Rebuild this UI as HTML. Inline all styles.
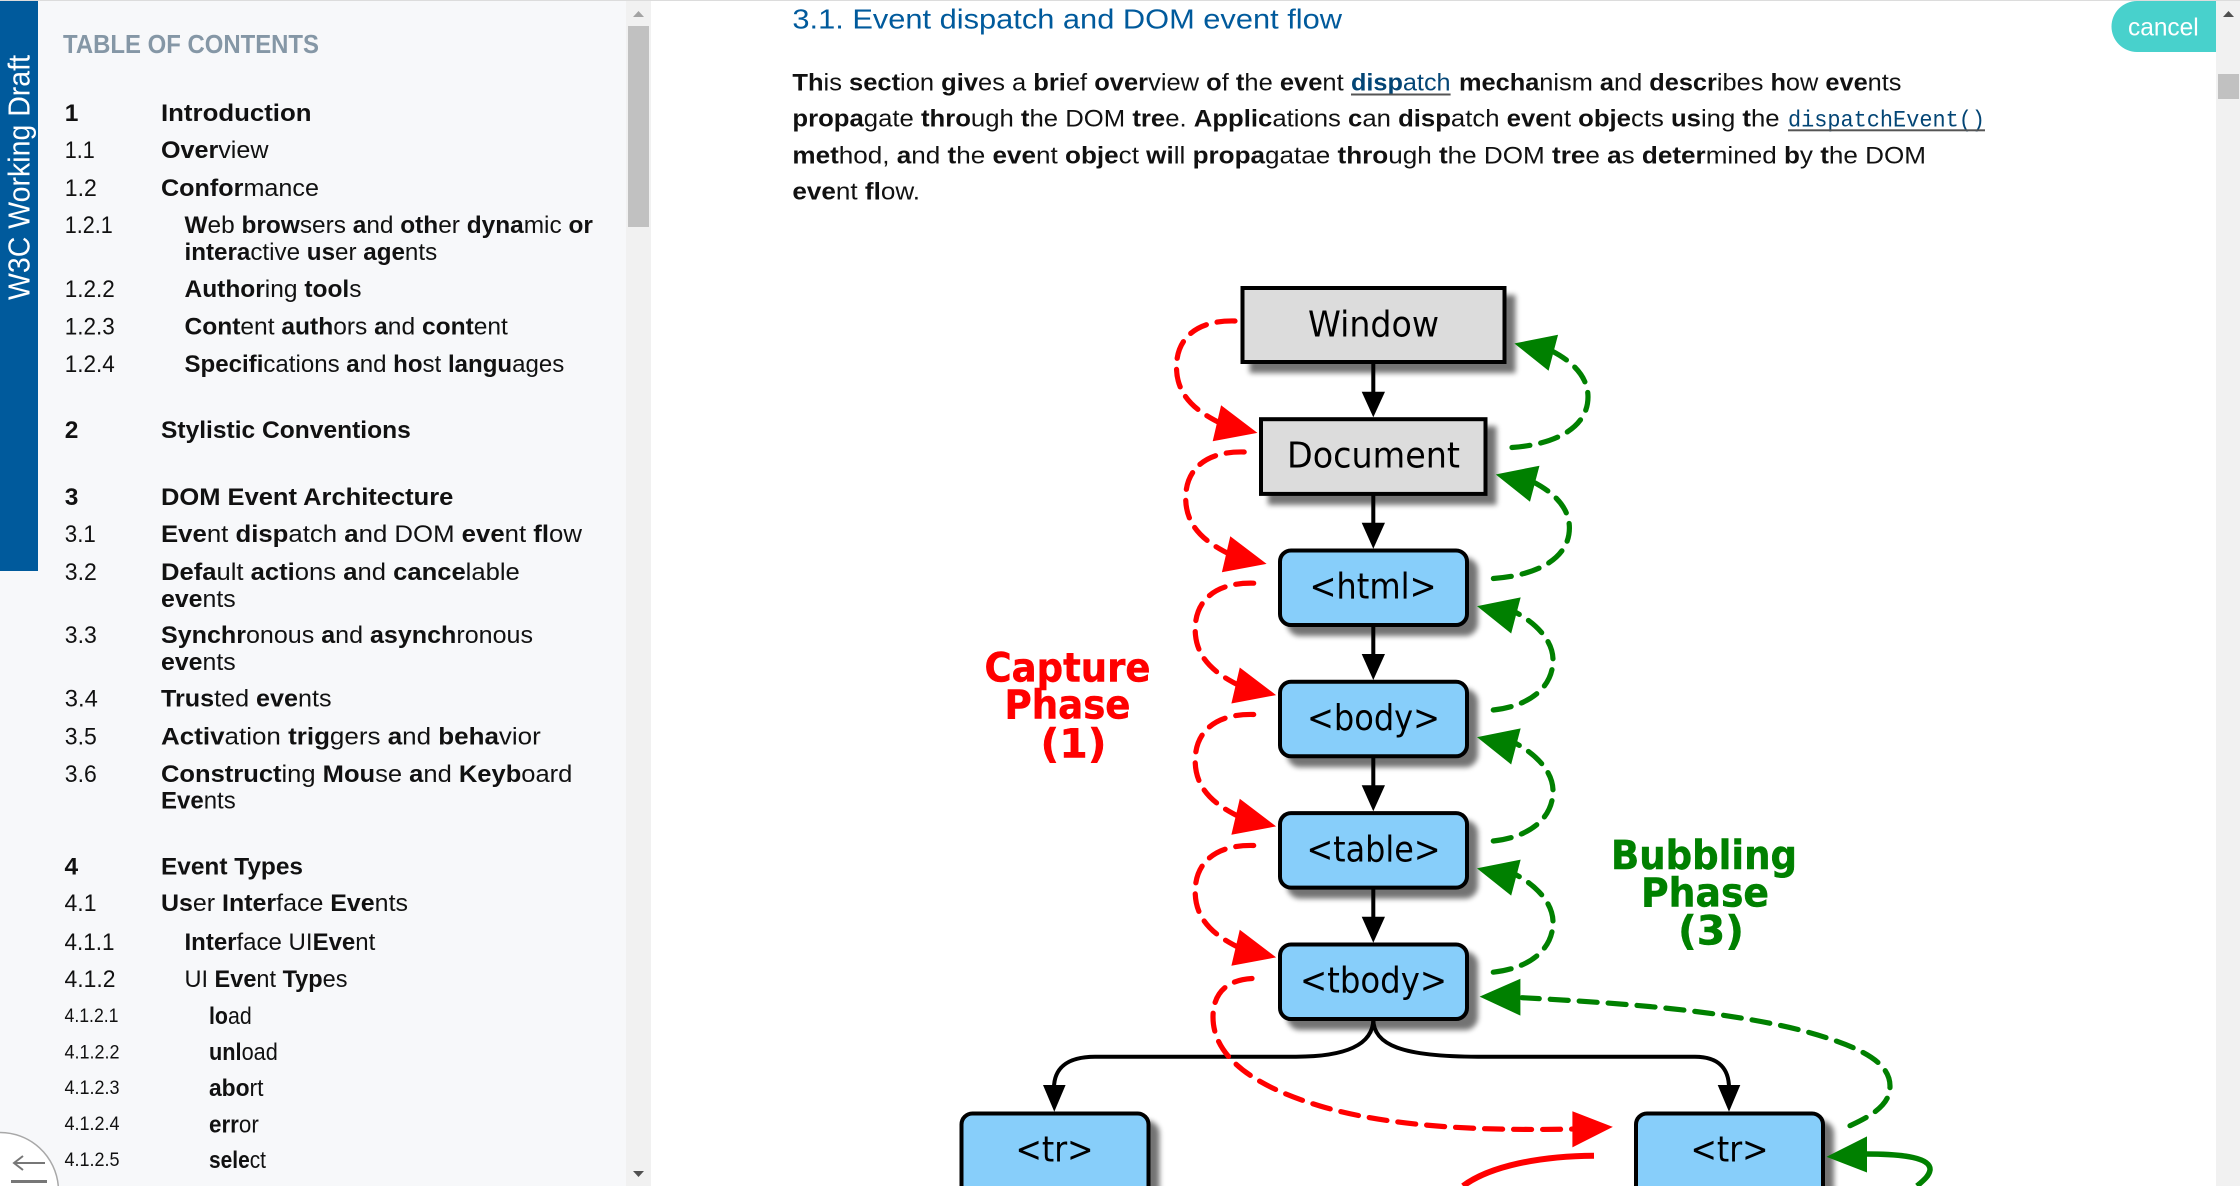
<!DOCTYPE html>
<html><head><meta charset="utf-8"><style>
html,body{margin:0;padding:0;width:2240px;height:1186px;overflow:hidden;background:#fff}
svg{display:block}
.t text{font-family:"Liberation Sans",sans-serif;font-size:24.5px;fill:#111}
.t b,.b{font-weight:bold}
.s{font-size:19.5px!important}
.d text{font-family:"DejaVu Sans",sans-serif;font-size:35.4px;fill:#000}
.l{font-family:"DejaVu Sans",sans-serif;font-size:40px;font-weight:bold;stroke-width:.5}
.n{fill:#87cefa;stroke:#000;stroke-width:4}
.g{fill:#dcdcdc;stroke:#000;stroke-width:4}
.rd{fill:none;stroke:#f00;stroke-width:5.2;stroke-dasharray:18 11;stroke-linecap:round}
.gd{fill:none;stroke:#008000;stroke-width:5.2;stroke-dasharray:18 11;stroke-linecap:round}
.hr{fill:#f00;stroke:#f00;stroke-width:2;stroke-linejoin:miter}
.hg{fill:#008000;stroke:#008000;stroke-width:2;stroke-linejoin:miter}
tspan.b{font-weight:bold}
</style></head><body>
<svg xmlns="http://www.w3.org/2000/svg" width="2240" height="1186" viewBox="0 0 2240 1186">
<defs>
<filter id="sh" x="-15%" y="-25%" width="130%" height="150%">
<feGaussianBlur in="SourceAlpha" stdDeviation="2.6" result="a"/>
<feOffset in="a" dx="9" dy="9" result="o"/>
<feComponentTransfer in="o" result="c"><feFuncA type="linear" slope="0.55"/></feComponentTransfer>
<feMerge><feMergeNode in="c"/><feMergeNode in="SourceGraphic"/></feMerge>
</filter>
<g id="r1"><path class="rd" d="M1235 321C1197 320 1176.500 338 1176.500 367C1176.500 395 1195 411 1222 424"/><polygon class="hr" points="1255,432.300 1221.700,407 1214,440"/></g>
<g id="g1"><path class="gd" d="M1512 447.500C1560 444 1588 425 1588 397C1588 375 1570 360 1550 350"/><polygon class="hg" points="1516.700,344 1556.700,336 1548,369"/></g>
<g id="g2"><path class="gd" d="M1493.300 710C1530 706 1553 687 1553 660C1553 640 1535 622 1513 611"/><polygon class="hg" points="1479.300,606.700 1519.300,598.700 1510.600,631.700"/></g>
</defs>

<!-- sidebar -->
<rect x="0" y="0" width="626" height="1186" fill="#f7f8fa"/>
<rect x="626" y="0" width="25" height="1186" fill="#f1f1f1"/>
<rect x="628" y="26" width="21" height="201" fill="#c1c1c1"/>
<polygon points="633,17 644,17 638.500,11" fill="#a3a3a3"/>
<polygon points="633,1171 644,1171 638.500,1177" fill="#505050"/>
<rect x="0" y="1" width="38" height="570" fill="#005a9c"/>
<text transform="translate(29.500 300) rotate(-90)" font-family="Liberation Sans,sans-serif" font-size="31" fill="#fff" textLength="245" lengthAdjust="spacingAndGlyphs">W3C Working Draft</text>
<text x="63" y="52.800" font-family="Liberation Sans,sans-serif" font-size="26" font-weight="bold" fill="#8597a6" textLength="256" lengthAdjust="spacingAndGlyphs">TABLE OF CONTENTS</text>

<g class="t">
<text x="64.800" y="121" class="b">1</text>
<text x="161" y="121" class="b" textLength="150.500" lengthAdjust="spacingAndGlyphs">Introduction</text>
<text x="64.800" y="158" textLength="30" lengthAdjust="spacingAndGlyphs">1.1</text>
<text x="161" y="158" textLength="107.500" lengthAdjust="spacingAndGlyphs"><tspan class="b">Over</tspan>view</text>
<text x="64.800" y="196" textLength="32" lengthAdjust="spacingAndGlyphs">1.2</text>
<text x="161" y="196" textLength="158" lengthAdjust="spacingAndGlyphs"><tspan class="b">Confor</tspan>mance</text>
<text x="64.800" y="233" textLength="48" lengthAdjust="spacingAndGlyphs">1.2.1</text>
<text x="184.500" y="233" textLength="408.400" lengthAdjust="spacingAndGlyphs"><tspan class="b">W</tspan>eb <tspan class="b">brow</tspan>sers <tspan class="b">a</tspan>nd <tspan class="b">oth</tspan>er <tspan class="b">dyna</tspan>mic <tspan class="b">or</tspan></text>
<text x="184.500" y="260" textLength="252.700" lengthAdjust="spacingAndGlyphs"><tspan class="b">intera</tspan>ctive <tspan class="b">us</tspan>er <tspan class="b">age</tspan>nts</text>
<text x="64.800" y="297" textLength="50" lengthAdjust="spacingAndGlyphs">1.2.2</text>
<text x="184.500" y="297" textLength="177" lengthAdjust="spacingAndGlyphs"><tspan class="b">Author</tspan>ing <tspan class="b">tool</tspan>s</text>
<text x="64.800" y="334.500" textLength="50" lengthAdjust="spacingAndGlyphs">1.2.3</text>
<text x="184.500" y="334.500" textLength="323.400" lengthAdjust="spacingAndGlyphs"><tspan class="b">Cont</tspan>ent <tspan class="b">auth</tspan>ors <tspan class="b">a</tspan>nd <tspan class="b">cont</tspan>ent</text>
<text x="64.800" y="372" textLength="50" lengthAdjust="spacingAndGlyphs">1.2.4</text>
<text x="184.500" y="372" textLength="379.800" lengthAdjust="spacingAndGlyphs"><tspan class="b">Specifi</tspan>cations <tspan class="b">a</tspan>nd <tspan class="b">ho</tspan>st <tspan class="b">langu</tspan>ages</text>
<text x="64.800" y="438" class="b">2</text>
<text x="161" y="438" class="b" textLength="249.800" lengthAdjust="spacingAndGlyphs">Stylistic Conventions</text>
<text x="64.800" y="505" class="b">3</text>
<text x="161" y="505" class="b" textLength="292.300" lengthAdjust="spacingAndGlyphs">DOM Event Architecture</text>
<text x="64.800" y="542" textLength="31" lengthAdjust="spacingAndGlyphs">3.1</text>
<text x="161" y="542" textLength="421" lengthAdjust="spacingAndGlyphs"><tspan class="b">Eve</tspan>nt <tspan class="b">disp</tspan>atch <tspan class="b">a</tspan>nd DOM <tspan class="b">eve</tspan>nt <tspan class="b">fl</tspan>ow</text>
<text x="64.800" y="580" textLength="32" lengthAdjust="spacingAndGlyphs">3.2</text>
<text x="161" y="580" textLength="358.800" lengthAdjust="spacingAndGlyphs"><tspan class="b">Defa</tspan>ult <tspan class="b">acti</tspan>ons <tspan class="b">a</tspan>nd <tspan class="b">cance</tspan>lable</text>
<text x="161" y="607" textLength="74.700" lengthAdjust="spacingAndGlyphs"><tspan class="b">eve</tspan>nts</text>
<text x="64.800" y="643" textLength="32" lengthAdjust="spacingAndGlyphs">3.3</text>
<text x="161" y="643" textLength="372" lengthAdjust="spacingAndGlyphs"><tspan class="b">Synchr</tspan>onous <tspan class="b">a</tspan>nd <tspan class="b">asynch</tspan>ronous</text>
<text x="161" y="670" textLength="74.700" lengthAdjust="spacingAndGlyphs"><tspan class="b">eve</tspan>nts</text>
<text x="64.800" y="706.500" textLength="33" lengthAdjust="spacingAndGlyphs">3.4</text>
<text x="161" y="706.500" textLength="170.600" lengthAdjust="spacingAndGlyphs"><tspan class="b">Trus</tspan>ted <tspan class="b">eve</tspan>nts</text>
<text x="64.800" y="744.600" textLength="32" lengthAdjust="spacingAndGlyphs">3.5</text>
<text x="161" y="744.600" textLength="379.800" lengthAdjust="spacingAndGlyphs"><tspan class="b">Activ</tspan>ation <tspan class="b">trig</tspan>gers <tspan class="b">a</tspan>nd <tspan class="b">beha</tspan>vior</text>
<text x="64.800" y="782" textLength="32" lengthAdjust="spacingAndGlyphs">3.6</text>
<text x="161" y="782" textLength="411.400" lengthAdjust="spacingAndGlyphs"><tspan class="b">Construct</tspan>ing <tspan class="b">Mou</tspan>se <tspan class="b">a</tspan>nd <tspan class="b">Keyb</tspan>oard</text>
<text x="161" y="808.500" textLength="74.700" lengthAdjust="spacingAndGlyphs"><tspan class="b">Eve</tspan>nts</text>
<text x="64.500" y="874.700" class="b">4</text>
<text x="161" y="874.700" class="b" textLength="142" lengthAdjust="spacingAndGlyphs">Event Types</text>
<text x="64.500" y="911" textLength="32" lengthAdjust="spacingAndGlyphs">4.1</text>
<text x="161" y="911" textLength="247" lengthAdjust="spacingAndGlyphs"><tspan class="b">Us</tspan>er <tspan class="b">Inter</tspan>face <tspan class="b">Eve</tspan>nts</text>
<text x="64.500" y="950" textLength="50" lengthAdjust="spacingAndGlyphs">4.1.1</text>
<text x="184.500" y="950" textLength="190.800" lengthAdjust="spacingAndGlyphs"><tspan class="b">Inter</tspan>face UI<tspan class="b">Eve</tspan>nt</text>
<text x="64.500" y="987" textLength="51" lengthAdjust="spacingAndGlyphs">4.1.2</text>
<text x="184.500" y="987" textLength="163" lengthAdjust="spacingAndGlyphs">UI <tspan class="b">Eve</tspan>nt <tspan class="b">Typ</tspan>es</text>
<text x="64.500" y="1022" class="s" textLength="54" lengthAdjust="spacingAndGlyphs">4.1.2.1</text>
<text x="209" y="1024" textLength="42.700" lengthAdjust="spacingAndGlyphs"><tspan class="b">lo</tspan>ad</text>
<text x="64.500" y="1058.500" class="s" textLength="55" lengthAdjust="spacingAndGlyphs">4.1.2.2</text>
<text x="209" y="1060" textLength="68.800" lengthAdjust="spacingAndGlyphs"><tspan class="b">unl</tspan>oad</text>
<text x="64.500" y="1094" class="s" textLength="55" lengthAdjust="spacingAndGlyphs">4.1.2.3</text>
<text x="209" y="1096" textLength="54.500" lengthAdjust="spacingAndGlyphs"><tspan class="b">abo</tspan>rt</text>
<text x="64.500" y="1130" class="s" textLength="55" lengthAdjust="spacingAndGlyphs">4.1.2.4</text>
<text x="209" y="1132.500" textLength="49.800" lengthAdjust="spacingAndGlyphs"><tspan class="b">err</tspan>or</text>
<text x="64.500" y="1166" class="s" textLength="55" lengthAdjust="spacingAndGlyphs">4.1.2.5</text>
<text x="209" y="1168" textLength="57" lengthAdjust="spacingAndGlyphs"><tspan class="b">sele</tspan>ct</text>
</g>
<path d="M0 1132.500A58.500 58.500 0 0 1 58.300 1186H0Z" fill="#fff"/>
<path d="M0 1132.500A58.500 58.500 0 0 1 58.300 1186" fill="none" stroke="#a8a8a8" stroke-width="1.500"/>
<path d="M15 1163H45M23 1156L14 1163L23 1170" fill="none" stroke="#777" stroke-width="2"/>
<rect x="11" y="1180" width="36" height="3" fill="#777"/>

<!-- main -->
<text x="792.400" y="28.300" font-family="Liberation Sans,sans-serif" font-size="28" fill="#005a9c" textLength="549.600" lengthAdjust="spacingAndGlyphs">3.1. Event dispatch and DOM event flow</text>
<g class="t">
<text x="792.400" y="90.700" textLength="551.300" lengthAdjust="spacingAndGlyphs"><tspan class="b">Th</tspan>is <tspan class="b">sect</tspan>ion <tspan class="b">giv</tspan>es a <tspan class="b">bri</tspan>ef <tspan class="b">over</tspan>view <tspan class="b">o</tspan>f <tspan class="b">t</tspan>he <tspan class="b">eve</tspan>nt</text>
<text x="1351" y="90.700" style="fill:#034575" textLength="99.600" lengthAdjust="spacingAndGlyphs"><tspan class="b">disp</tspan>atch</text>
<text x="1459" y="90.700" textLength="442.500" lengthAdjust="spacingAndGlyphs"><tspan class="b">mecha</tspan>nism <tspan class="b">a</tspan>nd <tspan class="b">descr</tspan>ibes <tspan class="b">h</tspan>ow <tspan class="b">eve</tspan>nts</text>
<text x="792.400" y="126.700" textLength="987.200" lengthAdjust="spacingAndGlyphs"><tspan class="b">propa</tspan>gate <tspan class="b">thro</tspan>ugh <tspan class="b">t</tspan>he DOM <tspan class="b">tre</tspan>e. <tspan class="b">Applic</tspan>ations <tspan class="b">c</tspan>an <tspan class="b">disp</tspan>atch <tspan class="b">eve</tspan>nt <tspan class="b">obje</tspan>cts <tspan class="b">us</tspan>ing <tspan class="b">t</tspan>he</text>
<text x="1788" y="126.700" style="font-family:'Liberation Mono',monospace;font-size:23px;fill:#034575" textLength="197" lengthAdjust="spacingAndGlyphs">dispatchEvent()</text>
<text x="792.400" y="163.300" textLength="1133.600" lengthAdjust="spacingAndGlyphs"><tspan class="b">met</tspan>hod, <tspan class="b">a</tspan>nd <tspan class="b">t</tspan>he <tspan class="b">eve</tspan>nt <tspan class="b">obje</tspan>ct <tspan class="b">wi</tspan>ll <tspan class="b">propa</tspan>gatae <tspan class="b">thro</tspan>ugh <tspan class="b">t</tspan>he DOM <tspan class="b">tre</tspan>e <tspan class="b">a</tspan>s <tspan class="b">deter</tspan>mined <tspan class="b">b</tspan>y <tspan class="b">t</tspan>he DOM</text>
<text x="792.400" y="199.300" textLength="127.600" lengthAdjust="spacingAndGlyphs"><tspan class="b">eve</tspan>nt <tspan class="b">fl</tspan>ow.</text>
</g>
<rect x="1351" y="93.500" width="99.600" height="2" fill="#555"/>
<rect x="1788" y="129.300" width="197" height="2" fill="#555"/>

<!-- cancel and right scrollbar -->
<rect x="2216" y="0" width="24" height="1186" fill="#f1f1f1"/>
<rect x="2218" y="74" width="21" height="25" fill="#c1c1c1"/>
<polygon points="2223,17 2234,17 2228.500,11" fill="#505050"/>
<path d="M2216 1V52H2137A25.500 25.500 0 0 1 2137 1Z" fill="#48d1cc"/>
<text x="2128" y="35.700" font-family="Liberation Sans,sans-serif" font-size="25" fill="#fff" textLength="70.700" lengthAdjust="spacingAndGlyphs">cancel</text>
<rect x="0" y="0" width="2240" height="1" fill="#dcdcdc"/>

<!-- diagram connectors -->
<g stroke="#000" stroke-width="4" fill="none">
<path d="M1373.300 362V394M1373.300 494V525M1373.300 625V656M1373.300 756V787M1373.300 887V919"/>
<path d="M1373.300 1019C1373.300 1045 1345 1056.700 1296 1056.700H1095C1065 1056.700 1054 1070 1054 1088"/>
<path d="M1373.300 1019C1373.300 1045 1402 1056.700 1478 1056.700H1695C1720 1056.700 1729 1070 1729 1088"/>
</g>
<g fill="#000">
<polygon points="1361.700,391.700 1385,391.700 1373.300,417.300"/>
<polygon points="1361.700,522.700 1385,522.700 1373.300,548.700"/>
<polygon points="1361.700,654 1385,654 1373.300,680"/>
<polygon points="1361.700,785.300 1385,785.300 1373.300,811.300"/>
<polygon points="1361.700,916.700 1385,916.700 1373.300,942.700"/>
<polygon points="1043,1085 1065.600,1085 1054.300,1111.700"/>
<polygon points="1717.700,1085 1740.300,1085 1729,1111.700"/>
</g>

<!-- nodes -->
<g filter="url(#sh)"><rect class="g" x="1242.500" y="288" width="262" height="74"/></g>
<g filter="url(#sh)"><rect class="g" x="1261" y="419.200" width="224.500" height="74.700"/></g>
<g filter="url(#sh)"><rect class="n" x="1280" y="550.500" width="187" height="74.500" rx="11"/></g>
<g filter="url(#sh)"><rect class="n" x="1280" y="681.800" width="187" height="74.500" rx="11"/></g>
<g filter="url(#sh)"><rect class="n" x="1280" y="813.100" width="187" height="74.500" rx="11"/></g>
<g filter="url(#sh)"><rect class="n" x="1280" y="944.500" width="187" height="74.500" rx="11"/></g>
<g filter="url(#sh)"><path class="n" d="M961.500 1186V1124.500A11 11 0 0 1 972.500 1113.500H1137.500A11 11 0 0 1 1148.500 1124.500V1186"/></g>
<g filter="url(#sh)"><path class="n" d="M1636 1186V1124.500A11 11 0 0 1 1647 1113.500H1812A11 11 0 0 1 1823 1124.500V1186"/></g>
<g class="d">
<text x="1308" y="336.700" textLength="131" lengthAdjust="spacingAndGlyphs">Window</text>
<text x="1287" y="467.300" textLength="173" lengthAdjust="spacingAndGlyphs">Document</text>
<text x="1309.500" y="598.300" textLength="127" lengthAdjust="spacingAndGlyphs">&lt;html&gt;</text>
<text x="1307" y="730" textLength="133" lengthAdjust="spacingAndGlyphs">&lt;body&gt;</text>
<text x="1306.500" y="861.700" textLength="134" lengthAdjust="spacingAndGlyphs">&lt;table&gt;</text>
<text x="1300" y="992.700" textLength="147" lengthAdjust="spacingAndGlyphs">&lt;tbody&gt;</text>
<text x="1015.500" y="1161.700" textLength="78" lengthAdjust="spacingAndGlyphs">&lt;tr&gt;</text>
<text x="1690.500" y="1161.700" textLength="78" lengthAdjust="spacingAndGlyphs">&lt;tr&gt;</text>
</g>

<!-- capture / bubble -->
<use href="#r1"/>
<use href="#r1" transform="translate(9.200 131)"/>
<use href="#r1" transform="translate(18.700 262.200)"/>
<use href="#r1" transform="translate(18.700 393.500)"/>
<use href="#r1" transform="translate(18.700 524.500)"/>
<use href="#g1"/>
<use href="#g1" transform="translate(-18.600 131)"/>
<use href="#g2"/>
<use href="#g2" transform="translate(0 131)"/>
<use href="#g2" transform="translate(0 262.200)"/>

<path class="rd" d="M1252 978.500C1225 980 1213 995 1213 1017C1213 1055 1250 1085 1320 1106C1390 1127 1480 1131 1575 1129"/>
<polygon class="hr" points="1610.400,1127 1573.400,1112.700 1573.400,1145.700"/>
<path class="gd" d="M1850 1125.700C1878 1113 1890 1102 1890 1086C1890 1062 1860 1046 1800 1030C1720 1010 1620 1003 1522 997.700"/>
<polygon class="hg" points="1482,996.700 1519.400,980.300 1519.400,1014"/>
<path d="M1594 1155.700C1540 1156 1490 1166 1463 1186" fill="none" stroke="#f00" stroke-width="6"/>
<path d="M1866 1154C1905 1154 1931 1158 1930 1170C1929 1176 1924 1180 1917 1186" fill="none" stroke="#008000" stroke-width="5.500"/>
<polygon class="hg" points="1829,1156.700 1866,1138 1866,1171"/>

<!-- labels -->
<g fill="#f00" stroke="#f00" class="l">
<text x="984.500" y="681.700" textLength="166" lengthAdjust="spacingAndGlyphs">Capture</text>
<text x="1004.500" y="718.300" textLength="126" lengthAdjust="spacingAndGlyphs">Phase</text>
<text x="1040.500" y="757.500" textLength="66" lengthAdjust="spacingAndGlyphs">(1)</text>
</g>
<g fill="#008000" stroke="#008000" class="l">
<text x="1611" y="869" textLength="186" lengthAdjust="spacingAndGlyphs">Bubbling</text>
<text x="1641" y="906.700" textLength="128" lengthAdjust="spacingAndGlyphs">Phase</text>
<text x="1678" y="944.500" textLength="66" lengthAdjust="spacingAndGlyphs">(3)</text>
</g>
</svg>
</body></html>
